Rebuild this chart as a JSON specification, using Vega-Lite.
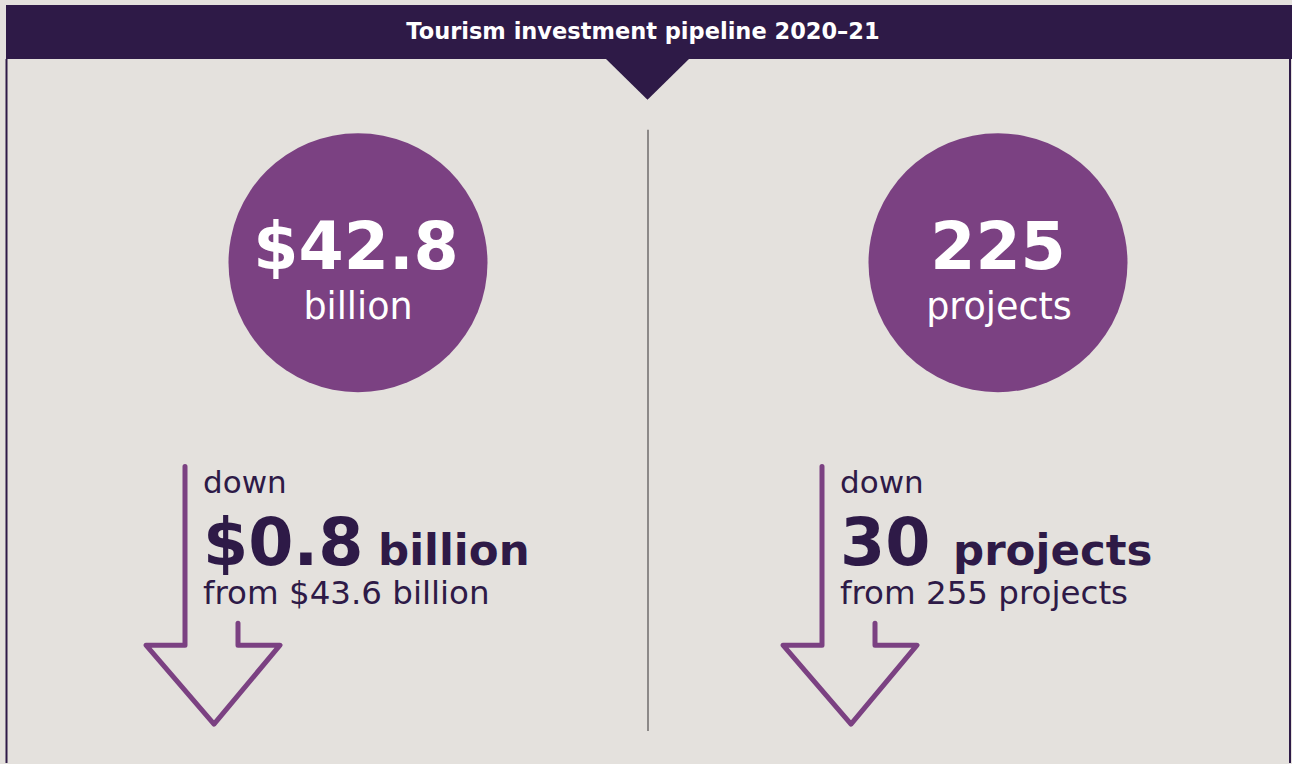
{
  "$schema": "https://vega.github.io/schema/vega-lite/v6.json",
  "width": 1292,
  "height": 764,
  "autosize": {"type": "fit", "contains": "padding"},
  "padding": 0,
  "background": "#E4E1DD",
  "config": {"view": {"stroke": null}, "font": "DejaVu Sans"},
  "datasets": {
    "header": [{"part": "header bar", "x": 6, "x2": 1292, "y": 5, "y2": 59}],
    "notch": [
      {"x": 605, "y": 58, "y2": 58},
      {"x": 647.5, "y": 58, "y2": 100},
      {"x": 690, "y": 58, "y2": 58}
    ],
    "borders": [
      {"side": "left", "x": 6.5, "y": 59, "y2": 764},
      {"side": "right", "x": 1290, "y": 59, "y2": 764}
    ],
    "divider": [{"x": 648, "y": 130, "y2": 732}],
    "circles": [
      {"metric": "investment", "x": 358, "y": 263},
      {"metric": "projects", "x": 998, "y": 263}
    ],
    "arrows": [
      {"arrow": "investment", "i": 0, "x": 185, "y": 467},
      {"arrow": "investment", "i": 1, "x": 185, "y": 646},
      {"arrow": "investment", "i": 2, "x": 146, "y": 646},
      {"arrow": "investment", "i": 3, "x": 214, "y": 725},
      {"arrow": "investment", "i": 4, "x": 280, "y": 646},
      {"arrow": "investment", "i": 5, "x": 238, "y": 646},
      {"arrow": "investment", "i": 6, "x": 238, "y": 624},
      {"arrow": "projects", "i": 0, "x": 822, "y": 467},
      {"arrow": "projects", "i": 1, "x": 822, "y": 646},
      {"arrow": "projects", "i": 2, "x": 783, "y": 646},
      {"arrow": "projects", "i": 3, "x": 851, "y": 725},
      {"arrow": "projects", "i": 4, "x": 917, "y": 646},
      {"arrow": "projects", "i": 5, "x": 875, "y": 646},
      {"arrow": "projects", "i": 6, "x": 875, "y": 624}
    ],
    "title": [{"x": 643, "y": 39, "label": "Tourism investment pipeline 2020–21"}],
    "bigWhite": [
      {"x": 356, "y": 269, "label": "$42.8"},
      {"x": 998, "y": 269, "label": "225"}
    ],
    "unitWhite": [
      {"x": 358, "y": 319, "label": "billion"},
      {"x": 999, "y": 319, "label": "projects"}
    ],
    "down": [
      {"x": 203, "y": 494, "label": "down"},
      {"x": 840, "y": 494, "label": "down"}
    ],
    "change": [
      {"x": 203, "y": 566, "label": "$0.8"},
      {"x": 840, "y": 566, "label": "30"}
    ],
    "changeUnit": [
      {"x": 378, "y": 566, "label": "billion"},
      {"x": 953, "y": 566, "label": "projects"}
    ],
    "from": [
      {"x": 203, "y": 605, "label": "from $43.6 billion"},
      {"x": 840, "y": 605, "label": "from 255 projects"}
    ]
  },
  "encoding": {
    "x": {"field": "x", "type": "quantitative", "scale": {"domain": [0, 1292], "nice": false, "zero": false}, "axis": null},
    "y": {"field": "y", "type": "quantitative", "scale": {"domain": [0, 764], "nice": false, "zero": false, "reverse": true}, "axis": null}
  },
  "layer": [
    {
      "data": {"name": "header"},
      "mark": {"type": "rect", "color": "#2E1A47"},
      "encoding": {"x2": {"field": "x2"}, "y2": {"field": "y2"}}
    },
    {
      "data": {"name": "notch"},
      "mark": {"type": "area", "color": "#2E1A47", "orient": "vertical"},
      "encoding": {"y2": {"field": "y2"}}
    },
    {
      "data": {"name": "borders"},
      "mark": {"type": "rule", "color": "#2E1A47", "strokeWidth": 2},
      "encoding": {"y2": {"field": "y2"}}
    },
    {
      "data": {"name": "divider"},
      "mark": {"type": "rule", "color": "#6F6B6B", "strokeWidth": 1.5},
      "encoding": {"y2": {"field": "y2"}}
    },
    {
      "data": {"name": "circles"},
      "mark": {"type": "point", "shape": "circle", "filled": true, "opacity": 1, "color": "#7B4182", "size": 67081}
    },
    {
      "data": {"name": "arrows"},
      "mark": {"type": "line", "color": "#7B4182", "strokeWidth": 5, "strokeCap": "round", "strokeJoin": "round"},
      "encoding": {"detail": {"field": "arrow"}, "order": {"field": "i", "type": "quantitative"}}
    },
    {
      "data": {"name": "title"},
      "mark": {"type": "text", "color": "#FFFFFF", "fontSize": 22.5, "fontWeight": "bold", "align": "center", "baseline": "alphabetic"},
      "encoding": {"text": {"field": "label"}}
    },
    {
      "data": {"name": "bigWhite"},
      "mark": {"type": "text", "color": "#FFFFFF", "fontSize": 65, "fontWeight": "bold", "align": "center", "baseline": "alphabetic"},
      "encoding": {"text": {"field": "label"}}
    },
    {
      "data": {"name": "unitWhite"},
      "mark": {"type": "text", "color": "#FFFFFF", "fontSize": 36.5, "fontWeight": "normal", "align": "center", "baseline": "alphabetic"},
      "encoding": {"text": {"field": "label"}}
    },
    {
      "data": {"name": "down"},
      "mark": {"type": "text", "color": "#2E1A47", "fontSize": 31, "align": "left", "baseline": "alphabetic"},
      "encoding": {"text": {"field": "label"}}
    },
    {
      "data": {"name": "change"},
      "mark": {"type": "text", "color": "#2E1A47", "fontSize": 65, "fontWeight": "bold", "align": "left", "baseline": "alphabetic"},
      "encoding": {"text": {"field": "label"}}
    },
    {
      "data": {"name": "changeUnit"},
      "mark": {"type": "text", "color": "#2E1A47", "fontSize": 43.5, "fontWeight": "bold", "align": "left", "baseline": "alphabetic"},
      "encoding": {"text": {"field": "label"}}
    },
    {
      "data": {"name": "from"},
      "mark": {"type": "text", "color": "#2E1A47", "fontSize": 32.5, "align": "left", "baseline": "alphabetic"},
      "encoding": {"text": {"field": "label"}}
    }
  ]
}
